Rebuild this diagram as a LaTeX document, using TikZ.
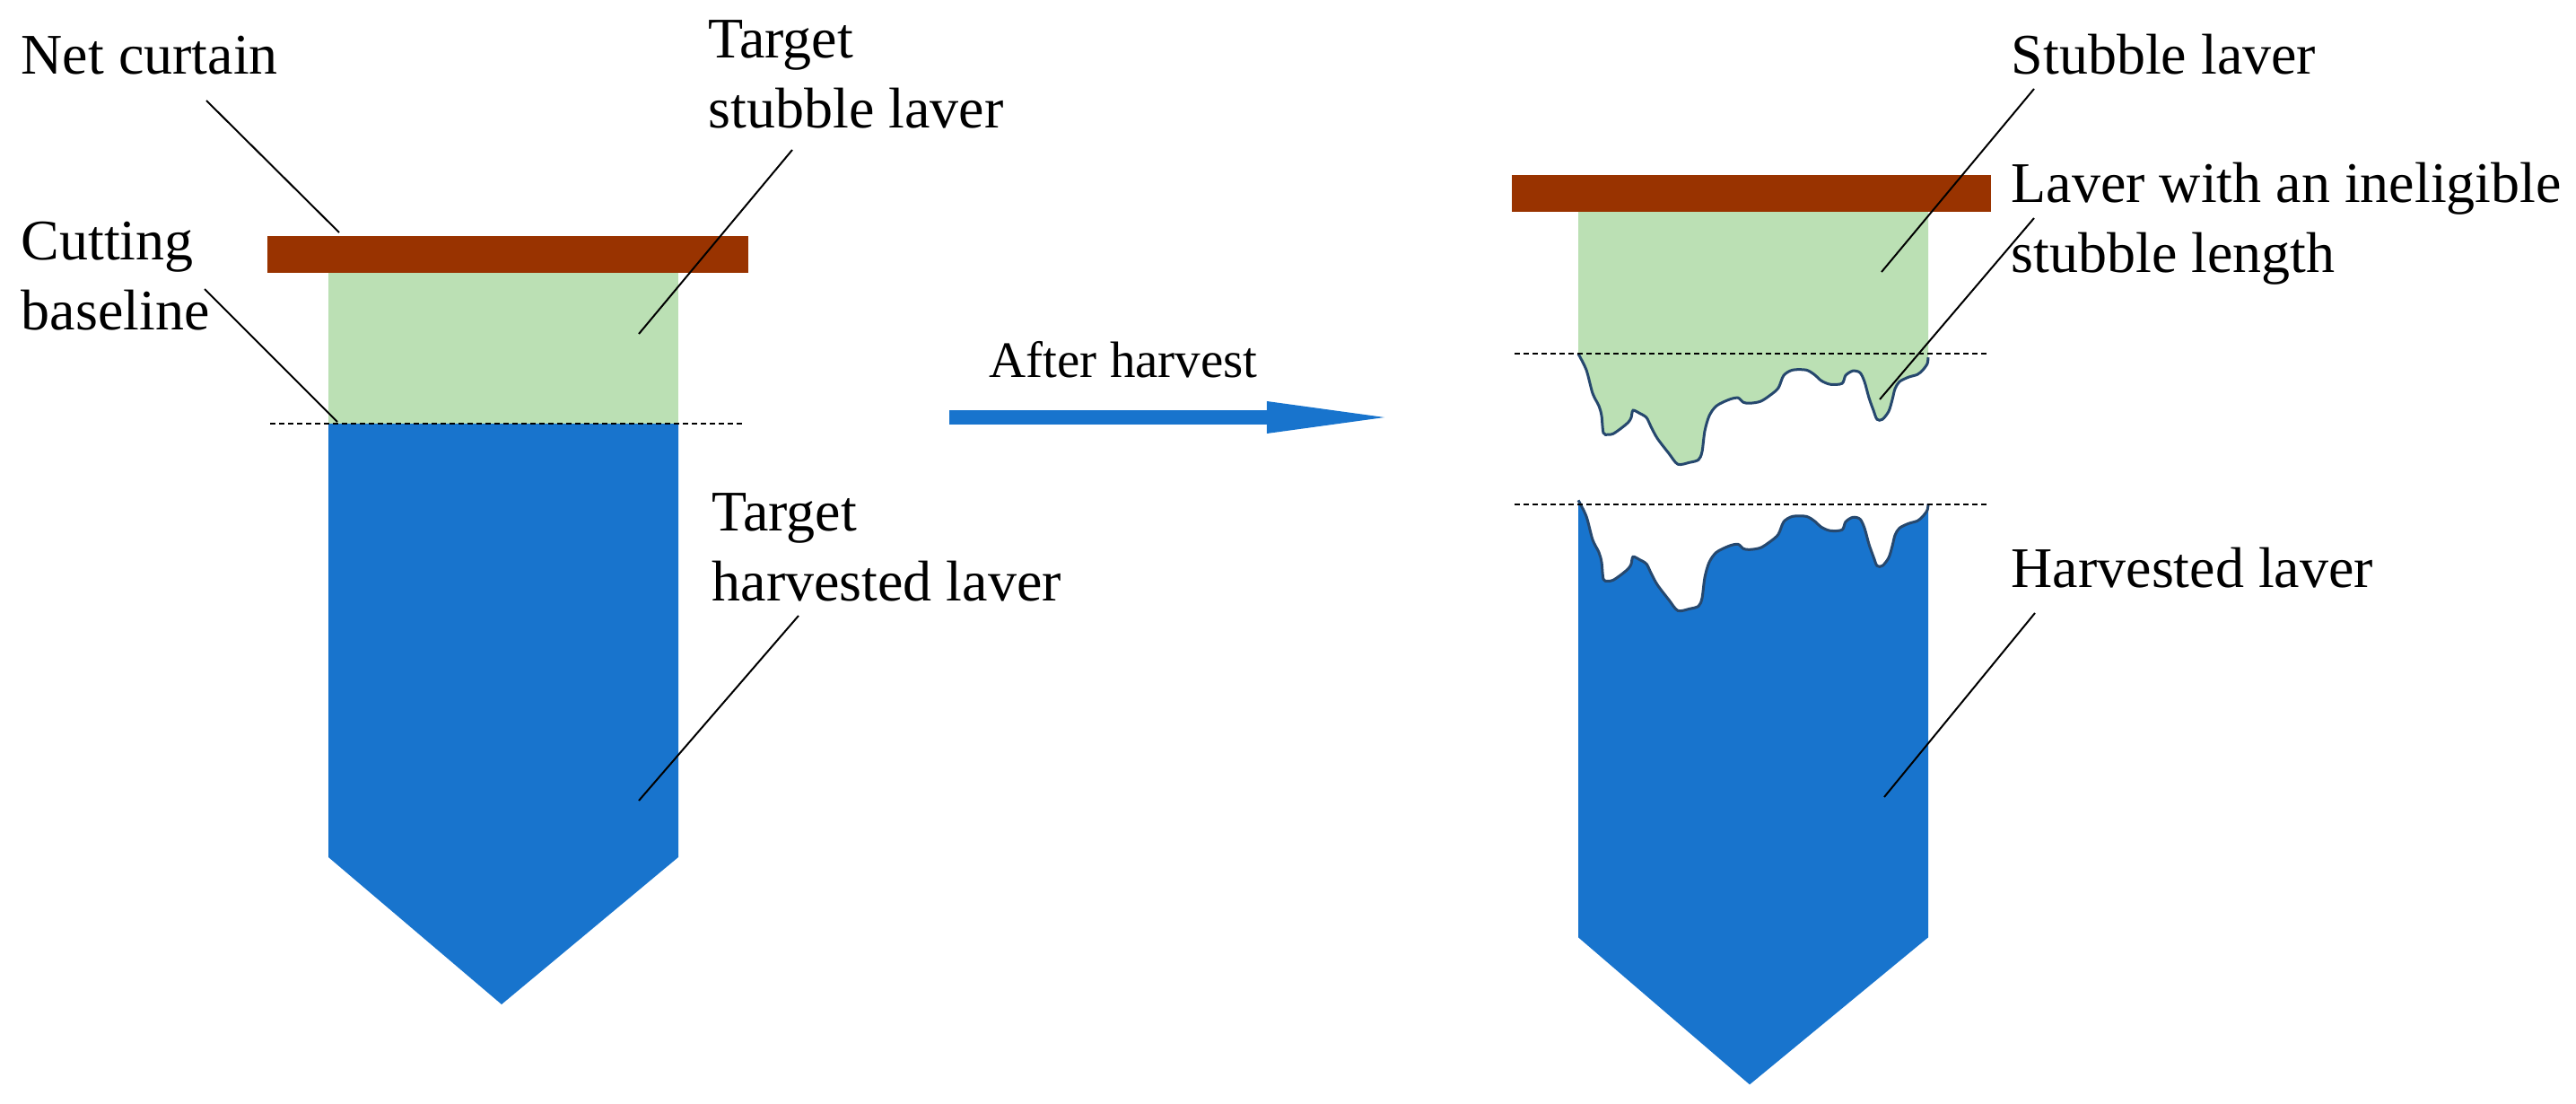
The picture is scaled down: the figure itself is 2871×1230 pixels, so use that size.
\documentclass[tikz,border=0pt]{standalone}
\usepackage{fontspec}
\setmainfont{Liberation Serif}
\usetikzlibrary{arrows.meta}

\definecolor{curtainbrown}{RGB}{153,51,0}
\definecolor{stubblegreen}{RGB}{187,224,180}
\definecolor{harvestblue}{RGB}{24,116,205}
\definecolor{edgeblue}{RGB}{38,72,110}

\tikzset{
    curtain/.style={fill=curtainbrown},
    stubble/.style={fill=stubblegreen},
    harvest/.style={fill=harvestblue},
    cutline/.style={dash pattern=on 0.06cm off 0.04cm, line width=0.025cm},
    leader/.style={line width=0.02cm},
    edgeline/.style={draw=edgeblue, line width=0.03cm},
    % base anchor sits on the last line
    lbl/.style={anchor=base west, inner sep=0pt, align=left,
        font=\fontsize{18.2}{21.9}\selectfont},
    flowarrow/.style={draw=harvestblue, line width=0.16cm,
        -{Triangle[length=1.31cm,width=0.36cm,line width=0pt]}},
    % ragged cut edge, y measured from the cutting line
    stubedge/.style={insert path={-- plot[smooth,tension=0.5] coordinates {
        (1759,0) (1768,18) (1775,44) (1782,58) (1785,69) (1787,88) (1792,90)
        (1798,89) (1808,82) (1815,76) (1818,71) (1820,63) (1827,66) (1835,71)
        (1840,81) (1847,94) (1860,111) (1870,123) (1883,121) (1893,118)
        (1897,109) (1900,86) (1905,69) (1913,58) (1927,51) (1937,49) (1943,54)
        (1950,55) (1962,53) (1973,46) (1982,38) (1988,24) (1998,18) (2013,18)
        (2022,23) (2030,30) (2040,34) (2053,33) (2057,24) (2065,19) (2073,21)
        (2078,31) (2083,49) (2088,63) (2092,73) (2098,73) (2105,64) (2109,51)
        (2112,39) (2117,31) (2127,26) (2137,23) (2143,18) (2148,11) (2149,4)}}},
}

\begin{document}
\begin{tikzpicture}[x=0.01cm,y=-0.01cm]
    \useasboundingbox (0,0) rectangle (2871,1230);

    % before harvest
    \fill[curtain] (298,263) rectangle (834,304);
    \fill[stubble] (366,304) rectangle (756,472);
    \fill[harvest] (366,472) -- (756,472) -- (756,955) -- (559,1119) -- (366,955) -- cycle;
    \draw[cutline] (301,472) -- (828,472);

    \node[lbl] (netlbl) at (23,83) {Net curtain};
    \node[lbl] (cutlbl) at (23,367) {Cutting\\baseline};
    \node[lbl] (tstublbl) at (789,142) {Target\\stubble laver};
    \node[lbl] (tharvlbl) at (793,669) {Target\\harvested laver};

    % arrow
    \coordinate (arrowstart) at (1058,465);
    \coordinate (arrowend) at (1543,465);
    \draw[flowarrow] (arrowstart) -- (arrowend);
    \node[lbl, font=\fontsize{16.2}{19.4}\selectfont] (afterlbl) at (1102,420) {After harvest};

    % after harvest
    \fill[curtain] (1685,195) rectangle (2219,236);
    \begin{scope}[yshift=-3.94cm]
        \fill[stubble] (1759,-158) [stubedge] -- (2149,-158) -- cycle;
        \draw[edgeline] (1759,0) [stubedge];
    \end{scope}
    \begin{scope}[yshift=-5.57cm]
        \fill[harvest] (1759,487) [stubedge] -- (2149,487) -- (1950,651) -- cycle;
        \draw[edgeline] (1759,0) [stubedge];
    \end{scope}
    \draw[cutline] (1688,394) -- (2215,394);
    \draw[cutline] (1688,562) -- (2215,562);

    \node[lbl] (stublbl) at (2241,83) {Stubble laver};
    \node[lbl] (inelbl) at (2241,303) {Laver with an ineligible\\stubble length};
    \node[lbl] (harvlbl) at (2241,654) {Harvested laver};

    % leader lines
    \coordinate (netA) at (230,112);   \coordinate (netB) at (378,259);
    \coordinate (cutA) at (228,322);   \coordinate (cutB) at (376,470);
    \coordinate (tstubA) at (883,167); \coordinate (tstubB) at (712,372);
    \coordinate (tharvA) at (890,686); \coordinate (tharvB) at (712,892);
    \coordinate (stubA) at (2267,99);  \coordinate (stubB) at (2097,303);
    \coordinate (ineA) at (2267,243);  \coordinate (ineB) at (2095,445);
    \coordinate (harvA) at (2268,683); \coordinate (harvB) at (2100,888);
    \foreach \a/\b in {netA/netB, cutA/cutB, tstubA/tstubB, tharvA/tharvB,
                       stubA/stubB, ineA/ineB, harvA/harvB}
        \draw[leader] (\a) -- (\b);
\end{tikzpicture}
\end{document}
